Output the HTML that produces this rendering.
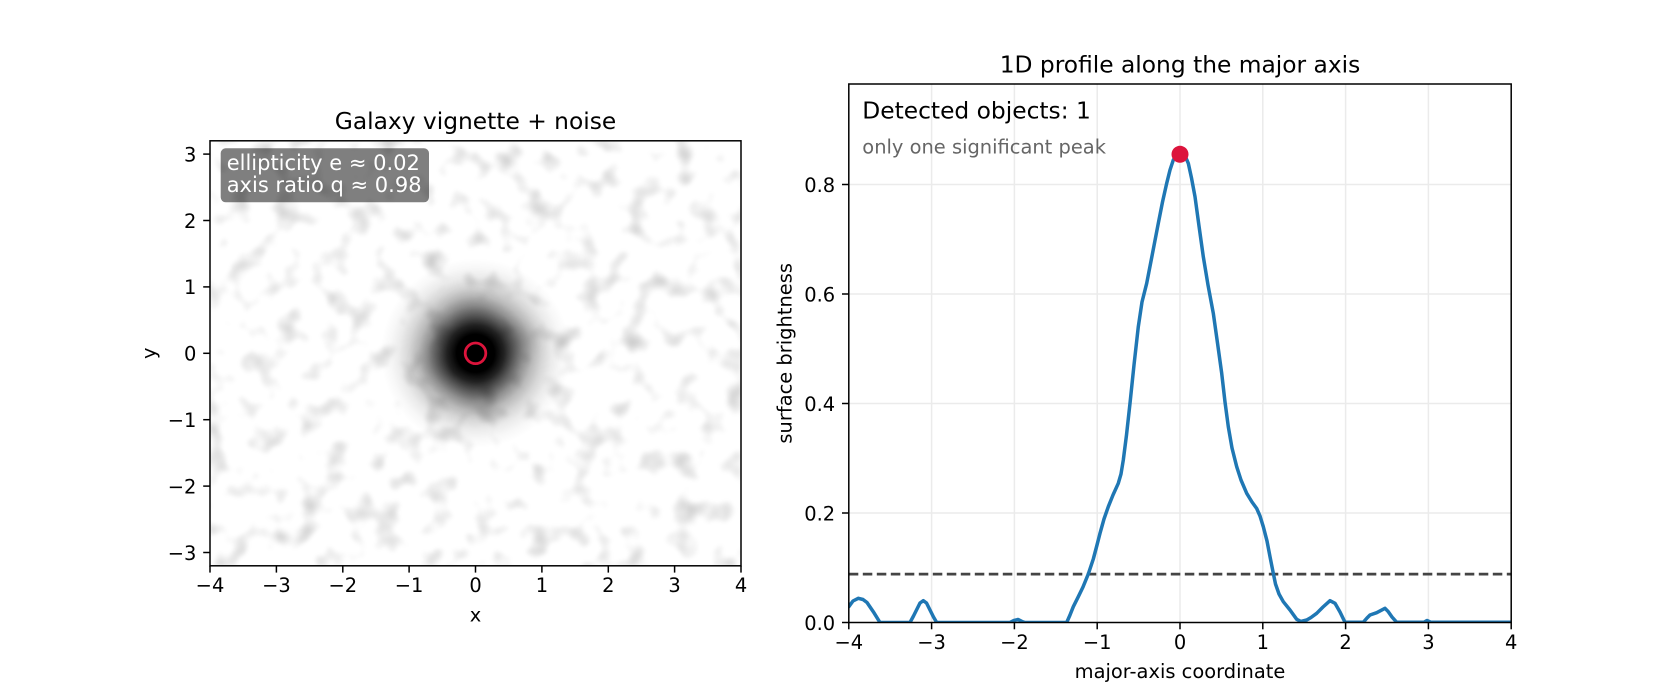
<!DOCTYPE html>
<html>
<head>
<meta charset="utf-8">
<style>
  html, body { margin: 0; padding: 0; background: #ffffff; }
  svg { display: block; }
  text { font-family: "DejaVu Sans", "Liberation Sans", sans-serif; }
</style>
</head>
<body>
<svg width="1680" height="700" viewBox="0 0 1680 700" xmlns="http://www.w3.org/2000/svg">
  <defs>
    <clipPath id="clipL"><rect x="210" y="140.8" width="531" height="425"/></clipPath>
    <clipPath id="clipR"><rect x="848.8" y="84" width="662.4" height="538.5"/></clipPath>
    <filter id="noise" x="0" y="0" width="1" height="1" color-interpolation-filters="sRGB">
      <feTurbulence type="fractalNoise" baseFrequency="0.04" numOctaves="2" seed="7" result="t"/>
      <feColorMatrix in="t" type="matrix" values="0 0 0 0 0  0 0 0 0 0  0 0 0 0 0  0.55 0 0 0 -0.29" result="m"/>
      <feGaussianBlur in="m" stdDeviation="1.5"/>
    </filter>
    <filter id="soft" x="-50%" y="-50%" width="200%" height="200%">
      <feGaussianBlur stdDeviation="8"/>
    </filter>
    <radialGradient id="gal" cx="475.5" cy="353.3" r="95" gradientUnits="userSpaceOnUse">
      <stop offset="0" stop-color="#000" stop-opacity="1"/>
      <stop offset="0.2" stop-color="#000" stop-opacity="1"/>
      <stop offset="0.3" stop-color="#000" stop-opacity="0.86"/>
      <stop offset="0.4" stop-color="#000" stop-opacity="0.64"/>
      <stop offset="0.5" stop-color="#000" stop-opacity="0.43"/>
      <stop offset="0.6" stop-color="#000" stop-opacity="0.27"/>
      <stop offset="0.7" stop-color="#000" stop-opacity="0.16"/>
      <stop offset="0.8" stop-color="#000" stop-opacity="0.08"/>
      <stop offset="0.9" stop-color="#000" stop-opacity="0.03"/>
      <stop offset="1" stop-color="#000" stop-opacity="0"/>
    </radialGradient>
  </defs>

  <rect x="0" y="0" width="1680" height="700" fill="#ffffff"/>

  <!-- ================= LEFT PANEL ================= -->
  <g clip-path="url(#clipL)">
    <rect x="210" y="140.8" width="531" height="425" fill="#ffffff"/>
    <rect x="210" y="140.8" width="531" height="425" fill="#000" filter="url(#noise)"/>
    <circle cx="475.5" cy="353.3" r="95" fill="url(#gal)"/>
    <g filter="url(#soft)" fill="#000">
      <ellipse cx="515" cy="340" rx="22" ry="14" fill-opacity="0.12"/>
      <ellipse cx="440" cy="362" rx="20" ry="16" fill-opacity="0.1"/>
      <ellipse cx="480" cy="395" rx="18" ry="14" fill-opacity="0.1"/>
      <ellipse cx="470" cy="310" rx="20" ry="14" fill-opacity="0.08"/>
    </g>
    <circle cx="475.5" cy="353.3" r="10.3" fill="none" stroke="#dc143c" stroke-width="2.8"/>
  </g>

  <!-- annotation box -->
  <rect x="220.7" y="148.3" width="208.3" height="54" rx="5" ry="5" fill="#000" fill-opacity="0.5"/>
  <text x="226.7" y="170" font-size="21" fill="#ffffff">ellipticity e ≈ 0.02</text>
  <text x="226.7" y="192" font-size="21" fill="#ffffff">axis ratio q ≈ 0.98</text>

  <!-- spines left -->
  <rect x="210" y="140.8" width="531" height="425" fill="none" stroke="#000" stroke-width="1.5"/>

  <!-- left x ticks -->
  <g stroke="#000" stroke-width="1.5">
    <line x1="210" y1="565.8" x2="210" y2="572.6"/>
    <line x1="276.4" y1="565.8" x2="276.4" y2="572.6"/>
    <line x1="342.8" y1="565.8" x2="342.8" y2="572.6"/>
    <line x1="409.1" y1="565.8" x2="409.1" y2="572.6"/>
    <line x1="475.5" y1="565.8" x2="475.5" y2="572.6"/>
    <line x1="541.9" y1="565.8" x2="541.9" y2="572.6"/>
    <line x1="608.3" y1="565.8" x2="608.3" y2="572.6"/>
    <line x1="674.6" y1="565.8" x2="674.6" y2="572.6"/>
    <line x1="741" y1="565.8" x2="741" y2="572.6"/>
    <!-- y ticks -->
    <line x1="203.2" y1="154.1" x2="210" y2="154.1"/>
    <line x1="203.2" y1="220.5" x2="210" y2="220.5"/>
    <line x1="203.2" y1="286.9" x2="210" y2="286.9"/>
    <line x1="203.2" y1="353.3" x2="210" y2="353.3"/>
    <line x1="203.2" y1="419.7" x2="210" y2="419.7"/>
    <line x1="203.2" y1="486.1" x2="210" y2="486.1"/>
    <line x1="203.2" y1="552.5" x2="210" y2="552.5"/>
  </g>
  <g font-size="19.44" fill="#000" text-anchor="middle">
    <text x="210" y="592">−4</text>
    <text x="276.4" y="592">−3</text>
    <text x="342.8" y="592">−2</text>
    <text x="409.1" y="592">−1</text>
    <text x="475.5" y="592">0</text>
    <text x="541.9" y="592">1</text>
    <text x="608.3" y="592">2</text>
    <text x="674.6" y="592">3</text>
    <text x="741" y="592">4</text>
  </g>
  <g font-size="19.44" fill="#000" text-anchor="end">
    <text x="196.4" y="161.4">3</text>
    <text x="196.4" y="227.8">2</text>
    <text x="196.4" y="294.2">1</text>
    <text x="196.4" y="360.6">0</text>
    <text x="196.4" y="427">−1</text>
    <text x="196.4" y="493.4">−2</text>
    <text x="196.4" y="559.8">−3</text>
  </g>
  <text x="475.5" y="621.3" font-size="19.44" text-anchor="middle">x</text>
  <text transform="translate(155.3,353.3) rotate(-90)" font-size="19.44" text-anchor="middle">y</text>
  <text x="475.5" y="129" font-size="23.33" text-anchor="middle">Galaxy vignette + noise</text>

  <!-- ================= RIGHT PANEL ================= -->
  <!-- grid -->
  <g stroke="#ebebeb" stroke-width="1.56">
    <line x1="931.6" y1="84" x2="931.6" y2="622.5"/>
    <line x1="1014.4" y1="84" x2="1014.4" y2="622.5"/>
    <line x1="1097.2" y1="84" x2="1097.2" y2="622.5"/>
    <line x1="1180" y1="84" x2="1180" y2="622.5"/>
    <line x1="1262.8" y1="84" x2="1262.8" y2="622.5"/>
    <line x1="1345.6" y1="84" x2="1345.6" y2="622.5"/>
    <line x1="1428.4" y1="84" x2="1428.4" y2="622.5"/>
    <line x1="848.8" y1="513" x2="1511.2" y2="513"/>
    <line x1="848.8" y1="403.5" x2="1511.2" y2="403.5"/>
    <line x1="848.8" y1="294" x2="1511.2" y2="294"/>
    <line x1="848.8" y1="184.5" x2="1511.2" y2="184.5"/>
  </g>

  <!-- threshold -->
  <line x1="848.8" y1="574.1" x2="1511.2" y2="574.1" stroke="#444" stroke-width="2.7" stroke-dasharray="9.5 4.5"/>

  <!-- profile curve -->
  <g clip-path="url(#clipR)">
    <polyline fill="none" stroke="#1f77b4" stroke-width="3.5" stroke-linejoin="round" stroke-linecap="round"
      points="846,609 848.8,606.7 853,601 858.3,598.3 863,599.5 867,602.5 873.3,611.7 880,622.5 910,622.5 913.5,616 917,609 920,603 923.3,600.7 926.5,603 930,610 933.5,617 936.7,622.5 1010,622.5 1014,620.5 1018,619.5 1022,621.5 1025,622.5 1066.7,622.5 1070,615 1073.3,606.7 1078.3,596.7 1083,587 1088.3,574 1093.3,559 1097,545 1100,533.3 1104,519 1108.3,506.7 1113,495 1118.3,483.3 1121,474 1123.3,460 1126.5,435 1130,403.3 1134,365 1138.3,326.7 1142,302 1146.7,283.3 1152,256 1158.3,223.3 1162.5,202 1166.7,183.3 1170,170 1173.3,160 1177,154.5 1180,153.5 1183,154.5 1186,158 1188.3,163.3 1191.5,178 1195,196.7 1199,226 1203.3,256.7 1208,285 1213.3,313.3 1217.5,343 1221.7,373.3 1225,402 1228.3,426.7 1232,448 1236.7,466.7 1241,480 1246.7,493.3 1252,502 1256.7,508.5 1260,516 1263.3,526.7 1267,541 1270,556.7 1273.3,573.3 1275.5,584 1279,594 1283.3,601.7 1290,610 1296.7,619.3 1301,621.5 1306.7,620 1311,617.5 1316.7,613.3 1323,607 1330,600.7 1335,603.3 1340,612 1345,622.3 1363.3,622.3 1367,618 1370,615 1376.7,612.7 1385,608.3 1388.3,611.7 1392,617 1396.7,622.3 1424,622.3 1427,620.5 1431,622.3 1515,622.3"/>
  </g>

  <!-- peak marker -->
  <circle cx="1180" cy="154.3" r="8.5" fill="#dc143c"/>

  <!-- spines right -->
  <rect x="848.8" y="84" width="662.4" height="538.5" fill="none" stroke="#000" stroke-width="1.5"/>

  <!-- right ticks -->
  <g stroke="#000" stroke-width="1.5">
    <line x1="848.8" y1="622.5" x2="848.8" y2="629.3"/>
    <line x1="931.6" y1="622.5" x2="931.6" y2="629.3"/>
    <line x1="1014.4" y1="622.5" x2="1014.4" y2="629.3"/>
    <line x1="1097.2" y1="622.5" x2="1097.2" y2="629.3"/>
    <line x1="1180" y1="622.5" x2="1180" y2="629.3"/>
    <line x1="1262.8" y1="622.5" x2="1262.8" y2="629.3"/>
    <line x1="1345.6" y1="622.5" x2="1345.6" y2="629.3"/>
    <line x1="1428.4" y1="622.5" x2="1428.4" y2="629.3"/>
    <line x1="1511.2" y1="622.5" x2="1511.2" y2="629.3"/>
    <line x1="842" y1="622.5" x2="848.8" y2="622.5"/>
    <line x1="842" y1="513" x2="848.8" y2="513"/>
    <line x1="842" y1="403.5" x2="848.8" y2="403.5"/>
    <line x1="842" y1="294" x2="848.8" y2="294"/>
    <line x1="842" y1="184.5" x2="848.8" y2="184.5"/>
  </g>
  <g font-size="19.44" fill="#000" text-anchor="middle">
    <text x="848.8" y="649">−4</text>
    <text x="931.6" y="649">−3</text>
    <text x="1014.4" y="649">−2</text>
    <text x="1097.2" y="649">−1</text>
    <text x="1180" y="649">0</text>
    <text x="1262.8" y="649">1</text>
    <text x="1345.6" y="649">2</text>
    <text x="1428.4" y="649">3</text>
    <text x="1511.2" y="649">4</text>
  </g>
  <g font-size="19.44" fill="#000" text-anchor="end">
    <text x="835.2" y="629.8">0.0</text>
    <text x="835.2" y="520.3">0.2</text>
    <text x="835.2" y="410.8">0.4</text>
    <text x="835.2" y="301.3">0.6</text>
    <text x="835.2" y="191.8">0.8</text>
  </g>
  <text x="1180" y="678" font-size="19.44" text-anchor="middle">major-axis coordinate</text>
  <text transform="translate(791.7,353.3) rotate(-90)" font-size="19.44" text-anchor="middle">surface brightness</text>
  <text x="1180" y="72.3" font-size="23.33" text-anchor="middle">1D profile along the major axis</text>

  <text x="862.3" y="118.3" font-size="23.33" fill="#000">Detected objects: 1</text>
  <text x="862.3" y="153.3" font-size="19.44" fill="#666666">only one significant peak</text>
</svg>
</body>
</html>
